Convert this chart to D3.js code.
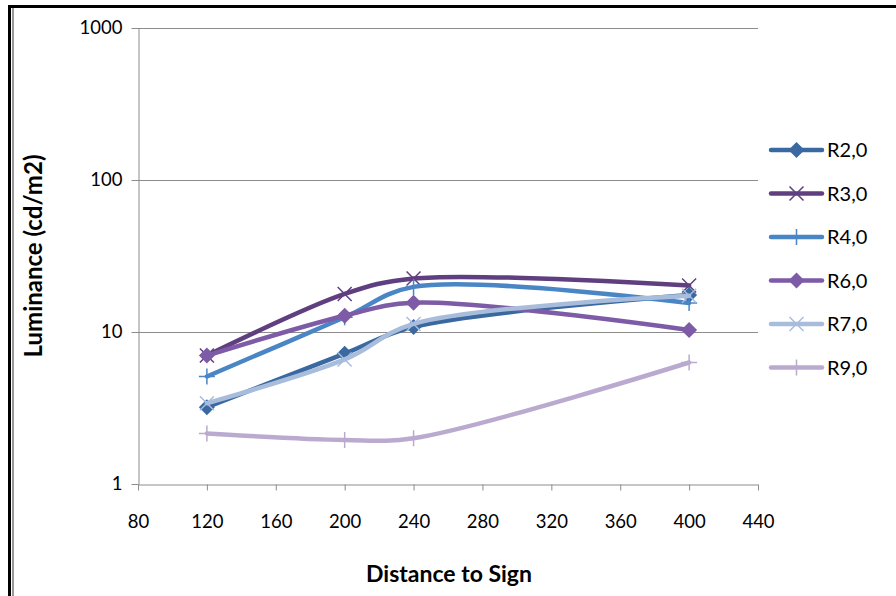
<!DOCTYPE html>
<html><head><meta charset="utf-8">
<script src="https://cdn.jsdelivr.net/npm/d3@7"></script>
<style>html,body{margin:0;padding:0;background:#fff;}</style>
</head><body>
<svg id="c" width="896" height="596"></svg>
<script>
const distances = [120, 200, 240, 400];
const seriesNames = ["R2,0", "R3,0", "R4,0", "R6,0", "R7,0", "R9,0"];
const R2 = [3.2, 7.2, 10.8, 17.5];
const R3 = [7.0, 17.8, 22.5, 20.2];
const R4 = [5.1, 12.5, 19.8, 15.5];
const R6 = [7.0, 12.8, 15.6, 10.3];
const R7 = [3.4, 6.6, 11.3, 17.3];
const R9 = [2.15, 1.95, 2.0, 6.3];
const xTicks = [80, 120, 160, 200, 240, 280, 320, 360, 400, 440];
const yTicks = [1, 10, 100, 1000];
const colors = ["#3a68a0", "#5f3f7f", "#4a85c6", "#7e5ba6", "#a8bddc", "#bbaacf"];
const markers = ["diamond", "x", "plus", "diamond", "x", "plus"];
const values = [R2, R3, R4, R6, R7, R9];

const svg = d3.select("#c");
const font = "Lato, 'Open Sans', sans-serif";

// outer frame
svg.append("line").attr("x1", 8).attr("x2", 896).attr("y1", 6.5).attr("y2", 6.5).attr("stroke", "#000").attr("stroke-width", 3);
svg.append("line").attr("x1", 9.5).attr("x2", 9.5).attr("y1", 5).attr("y2", 596).attr("stroke", "#000").attr("stroke-width", 3);
svg.append("line").attr("x1", 13).attr("x2", 13).attr("y1", 8).attr("y2", 596).attr("stroke", "#999").attr("stroke-width", 2);

const x = d3.scaleLinear().domain([80, 440]).range([138, 758]);
const y = d3.scaleLog().domain([1, 1000]).range([484, 28]);

// gridlines
svg.append("g").selectAll("line").data(yTicks.slice(1)).join("line")
  .attr("x1", 138).attr("x2", 758)
  .attr("y1", d => Math.round(y(d)) + 0.5).attr("y2", d => Math.round(y(d)) + 0.5)
  .attr("stroke", "#8c8c8c").attr("stroke-width", 1);

// axes
const xAxis = svg.append("g").attr("transform", "translate(0,484.5)")
  .call(d3.axisBottom(x).tickValues(xTicks).tickSize(6).tickPadding(24).tickSizeOuter(0));
const yAxis = svg.append("g").attr("transform", "translate(138.5,0)")
  .call(d3.axisLeft(y).tickValues(yTicks).tickFormat(d3.format("d")).tickSize(7).tickPadding(9).tickSizeOuter(0));
[xAxis, yAxis].forEach(a => {
  a.selectAll("path.domain").attr("stroke", "#8c8c8c");
  a.selectAll(".tick line").attr("stroke", "#8c8c8c");
  a.selectAll("text").attr("font-family", font).attr("font-size", 18.5).attr("fill", "#000");
});

// axis titles
svg.append("text").attr("x", 449).attr("y", 582).attr("text-anchor", "middle")
  .attr("font-family", font).attr("font-weight", "bold").attr("font-size", 23).text("Distance to Sign");
svg.append("text").attr("transform", "translate(42,256) rotate(-90)").attr("text-anchor", "middle")
  .attr("font-family", font).attr("font-weight", "bold").attr("font-size", 24).text("Luminance (cd/m2)");

function drawMarker(g, type, cx, cy, color) {
  if (type === "diamond") {
    g.append("path").attr("d", `M${cx},${cy-8}L${cx+8},${cy}L${cx},${cy+8}L${cx-8},${cy}Z`).attr("fill", color);
  } else if (type === "x") {
    g.append("path").attr("d", `M${cx-7},${cy-7}L${cx+7},${cy+7}M${cx-7},${cy+7}L${cx+7},${cy-7}`)
      .attr("stroke", color).attr("stroke-width", 1.5).attr("fill", "none");
  } else {
    g.append("path").attr("d", `M${cx-8},${cy}L${cx+8},${cy}M${cx},${cy-8}L${cx},${cy+8}`)
      .attr("stroke", color).attr("stroke-width", 1.5).attr("fill", "none");
  }
}

const line = d3.line().x(d => x(d[0])).y(d => y(d[1])).curve(d3.curveCatmullRom.alpha(0.5));

values.forEach((vals, i) => {
  const g = svg.append("g");
  const pts = distances.map((d, j) => [d, vals[j]]);
  g.append("path").attr("d", line(pts)).attr("fill", "none").attr("stroke", colors[i])
    .attr("stroke-width", 4.5).attr("stroke-linecap", "round");
  pts.forEach(p => drawMarker(g, markers[i], x(p[0]), y(p[1]), colors[i]));
});

// legend
const lg = svg.append("g");
seriesNames.forEach((name, i) => {
  const cy = 150 + i * 43.5;
  lg.append("line").attr("x1", 771).attr("x2", 822).attr("y1", cy).attr("y2", cy)
    .attr("stroke", colors[i]).attr("stroke-width", 4.5).attr("stroke-linecap", "round");
  drawMarker(lg, markers[i], 796.5, cy, colors[i]);
  lg.append("text").attr("x", 827).attr("y", cy).attr("dy", "0.36em")
    .attr("font-family", font).attr("font-size", 20).text(name);
});
</script>
</body></html>
